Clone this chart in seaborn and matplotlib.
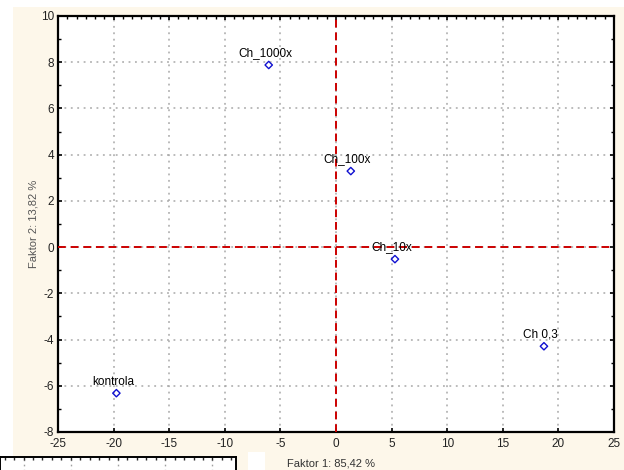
import matplotlib
matplotlib.use("Agg")
import matplotlib.pyplot as plt
from matplotlib.ticker import MultipleLocator
from matplotlib.patches import Rectangle
import seaborn as sns
import pandas as pd

labels = ["Ch_1000x", "Ch_100x", "Ch_10x", "Ch 0,3", "kontrola"]
factor1 = [-6.05, 1.33, 5.3, 18.7, -19.75]
factor2 = [7.88, 3.29, -0.52, -4.29, -6.32]
xlabel = "Faktor 1: 85,42 %"
ylabel = "Faktor 2: 13,82 %"

df = pd.DataFrame({"f1": factor1, "f2": factor2, "label": labels})

sns.set_theme(style="white")
plt.rcParams["font.family"] = ["Liberation Sans", "DejaVu Sans"]
plt.rcParams["axes.unicode_minus"] = False

fig = plt.figure(figsize=(6.24, 4.70), dpi=100, facecolor="white")
# cream background panel
fig.patches.append(Rectangle((13/624, 0), 611/624, 1 - 7/470, transform=fig.transFigure,
                             facecolor="#fdf7ea", edgecolor="none", zorder=-10))
# small white square near x-label
fig.patches.append(Rectangle((248/624, 0), 17/624, 18/470, transform=fig.transFigure,
                             facecolor="white", edgecolor="none", zorder=-9))

ax = fig.add_axes([58/624, 38/470, 556/624, 416/470])
ax.set_facecolor("white")

sns.scatterplot(data=df, x="f1", y="f2", ax=ax, marker="D", s=14,
                facecolor="none", edgecolor="#1010d0", linewidth=1.0, zorder=5)

for _, r in df.iterrows():
    ax.annotate(r["label"], (r["f1"], r["f2"]), xytext=(-2.5, 4), textcoords="offset points",
                ha="center", va="bottom", fontsize=8.5, color="black", zorder=6)

ax.axhline(0, color="#cc0000", linestyle=(0, (4, 2.5)), linewidth=1.4, zorder=3)
ax.axvline(0, color="#cc0000", linestyle=(0, (4, 2.5)), linewidth=1.4, zorder=3)

ax.set_xlim(-25, 25)
ax.set_ylim(-8, 10)
ax.xaxis.set_major_locator(MultipleLocator(5))
ax.yaxis.set_major_locator(MultipleLocator(2))
ax.xaxis.set_minor_locator(MultipleLocator(5/6))
ax.yaxis.set_minor_locator(MultipleLocator(1))
ax.grid(True, which="major", color="#a8a8a8", linestyle=(0, (1.2, 3)), linewidth=1.1, zorder=1)

for s in ax.spines.values():
    s.set_visible(True)
    s.set_color("black")
    s.set_linewidth(1.6)

ax.tick_params(axis="both", which="both", direction="in", colors="black", labelcolor="#222222")
ax.tick_params(axis="x", which="major", bottom=True, top=True, length=3, width=1.2, labelsize=8.5)
ax.tick_params(axis="x", which="minor", bottom=False, top=True, length=2.5, width=1.0)
ax.tick_params(axis="y", which="major", left=True, right=True, length=3, width=1.2, labelsize=8.5)
ax.tick_params(axis="y", which="minor", left=True, right=True, length=2.5, width=1.0)
ax.tick_params(axis="x", pad=4)
ax.tick_params(axis="y", pad=3)

ax.set_xlabel("")
ax.set_ylabel(ylabel, fontsize=8, color="#555555")
ax.yaxis.set_label_coords(-0.035, 0.5)

# x label at the bottom edge
fig.text(287/624, 2/470, xlabel, fontsize=8, color="#333333", ha="left", va="bottom")

# partially visible box at bottom-left (next panel)
ax2 = fig.add_axes([0/624, -20/470, 236/624, 33/470])
ax2.set_facecolor("white")
ax2.set_xlim(-25, 25)
ax2.set_ylim(0, 1)
ax2.xaxis.set_major_locator(MultipleLocator(10))
ax2.xaxis.set_minor_locator(MultipleLocator(2))
ax2.set_yticks([])
ax2.tick_params(axis="x", which="both", direction="in", top=True, bottom=False,
                labelbottom=False, length=2.5, width=1.0)
ax2.grid(True, axis="x", which="major", color="#a0a0a0", linestyle=(0, (1.2, 2.5)))
for s in ax2.spines.values():
    s.set_visible(True)
    s.set_color("black")
    s.set_linewidth(1.4)

fig.savefig("out.png", dpi=100, facecolor=fig.get_facecolor())
